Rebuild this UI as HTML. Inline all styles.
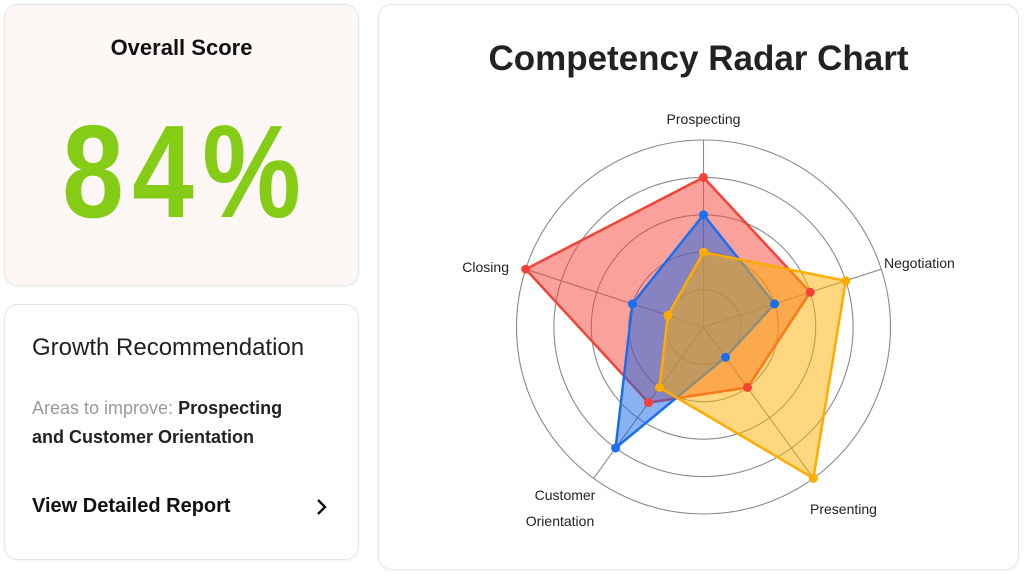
<!DOCTYPE html>
<html><head><meta charset="utf-8"><style>
body{margin:0;width:1024px;height:575px;background:#fff;font-family:"Liberation Sans",sans-serif;position:relative;overflow:hidden;color:#1f1f23}
.card{position:absolute;border:1.5px solid #e6e6e6;border-radius:14px;box-sizing:border-box;box-shadow:0 1px 3px rgba(0,0,0,0.06)}
</style></head><body>
<div class="card" style="left:4px;top:4px;width:355px;height:282px;background:#fdf8f6">
 <div style="position:absolute;top:30px;width:100%;text-align:center;font-size:22px;font-weight:bold;color:#111">Overall Score</div>
 <div style="position:absolute;top:92px;left:0;width:100%;text-align:center;font-size:132px;font-weight:bold;color:#84cc16;line-height:150px;letter-spacing:10px;text-indent:10px;transform:scaleX(0.84);transform-origin:center">84%</div>
</div>
<div class="card" style="left:4px;top:304px;width:355px;height:256px;background:#fff">
 <div style="position:absolute;left:27px;top:29px;font-size:24px;color:#222">Growth Recommendation</div>
 <div style="position:absolute;left:27px;top:89px;font-size:18px;line-height:29px;color:#222;width:270px;font-weight:bold"><span style="color:#999;font-weight:normal">Areas to improve:</span> Prospecting and Customer Orientation</div>
 <div style="position:absolute;left:27px;top:190px;font-size:20px;color:#111;font-weight:bold">View Detailed Report</div>
 <svg style="position:absolute;left:308px;top:192px" width="16" height="20"><path d="M5 3 L12 10 L5 17" stroke="#111" stroke-width="2.4" fill="none"/></svg>
</div>
<div class="card" style="left:378px;top:4px;width:641px;height:566px;background:#fff">
 <div style="position:absolute;top:34px;width:100%;text-align:center;font-size:35px;font-weight:bold;color:#222">Competency Radar Chart</div>
</div>
<svg style="position:absolute;left:0;top:0" width="1024" height="575">
<g fill="none" stroke="#8a8a8a" stroke-width="1.1">
<circle cx="703.5" cy="327" r="37.4"/><circle cx="703.5" cy="327" r="74.8"/><circle cx="703.5" cy="327" r="112.2"/><circle cx="703.5" cy="327" r="149.6"/><circle cx="703.5" cy="327" r="187"/>
<line x1="703.5" y1="327" x2="703.5" y2="140"/>
<line x1="703.5" y1="327" x2="881.3" y2="269.2"/>
<line x1="703.5" y1="327" x2="813.4" y2="478.3"/>
<line x1="703.5" y1="327" x2="593.6" y2="478.3"/>
<line x1="703.5" y1="327" x2="525.7" y2="269.2"/>
</g>
<g stroke-width="2.5" stroke-linejoin="round">
<polygon points="703.5,177.4 810.2,292.3 747.5,387.5 648.5,402.6 525.7,269.2" fill="rgba(244,67,54,0.5)" stroke="#f44336"/>
<polygon points="703.5,214.8 774.6,303.9 725.5,357.3 615.6,448 632.4,303.9" fill="rgba(21,101,230,0.5)" stroke="#1a6ef0"/>
<polygon points="703.5,252.2 845.8,280.8 813.4,478.3 659.5,387.5 667.9,315.4" fill="rgba(255,176,0,0.5)" stroke="#ffab00"/>
</g>
<g fill="#f44336"><circle cx="703.5" cy="177.4" r="4.5"/><circle cx="810.2" cy="292.3" r="4.5"/><circle cx="747.5" cy="387.5" r="4.5"/><circle cx="648.5" cy="402.6" r="4.5"/><circle cx="525.7" cy="269.2" r="4.5"/></g>
<g fill="#1a6ef0"><circle cx="703.5" cy="214.8" r="4.5"/><circle cx="774.6" cy="303.9" r="4.5"/><circle cx="725.5" cy="357.3" r="4.5"/><circle cx="615.6" cy="448" r="4.5"/><circle cx="632.4" cy="303.9" r="4.5"/></g>
<g fill="#ffab00"><circle cx="703.5" cy="252.2" r="4.5"/><circle cx="845.8" cy="280.8" r="4.5"/><circle cx="813.4" cy="478.3" r="4.5"/><circle cx="659.5" cy="387.5" r="4.5"/><circle cx="667.9" cy="315.4" r="4.5"/></g>
<g font-family="Liberation Sans, sans-serif" font-size="14" fill="#222">
<text x="703.5" y="124" text-anchor="middle">Prospecting</text>
<text x="884" y="268">Negotiation</text>
<text x="810" y="514">Presenting</text>
<text x="565" y="500" text-anchor="middle">Customer</text>
<text x="560" y="526" text-anchor="middle">Orientation</text>
<text x="509" y="272" text-anchor="end">Closing</text>
</g>
</svg>
</body></html>
